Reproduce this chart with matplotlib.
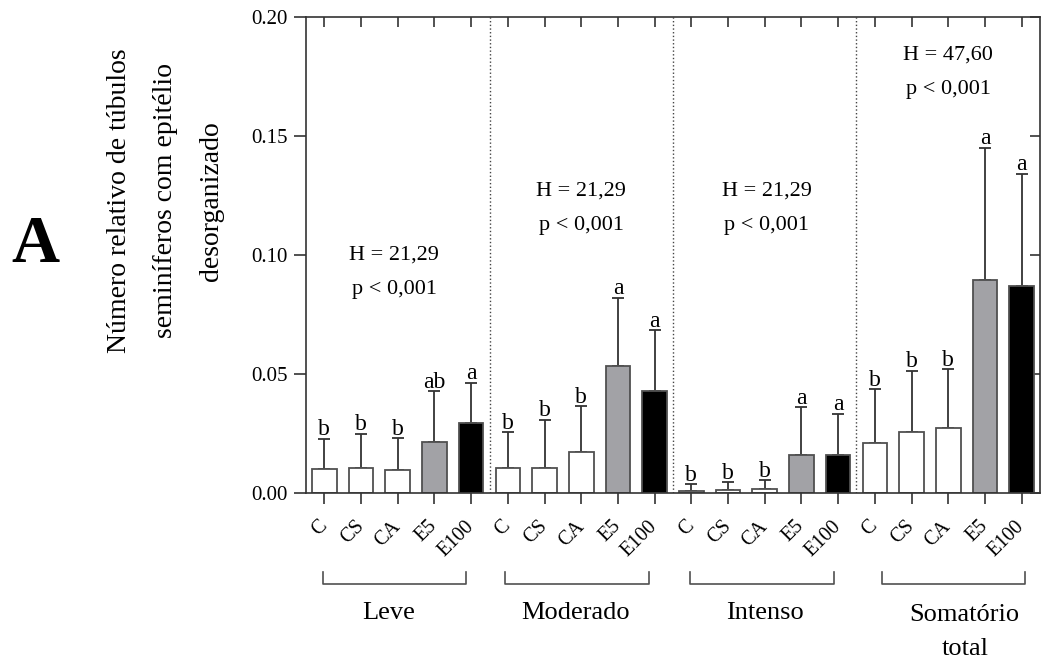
import matplotlib.pyplot as plt
import numpy as np

plt.rcParams['font.family'] = ['Liberation Serif', 'DejaVu Serif']

# data
treatments = ['C', 'CS', 'CA', 'E5', 'E100']
groups = ['Leve', 'Moderado', 'Intenso', 'Somatório\ntotal']
means = [0.0101, 0.0104, 0.0097, 0.0213, 0.0293,
         0.0106, 0.0106, 0.0172, 0.0534, 0.0430,
         0.0007, 0.0011, 0.0016, 0.0161, 0.0160,
         0.0209, 0.0258, 0.0272, 0.0894, 0.0871]
upper = [0.0228, 0.0249, 0.0230, 0.0427, 0.0464,
         0.0256, 0.0308, 0.0364, 0.0821, 0.0683,
         0.0037, 0.0045, 0.0053, 0.0360, 0.0333,
         0.0436, 0.0514, 0.0520, 0.1451, 0.1342]
letters = ['b', 'b', 'b', 'ab', 'a',
           'b', 'b', 'b', 'a', 'a',
           'b', 'b', 'b', 'a', 'a',
           'b', 'b', 'b', 'a', 'a']
stats = [('H = 21,29', 'p < 0,001'), ('H = 21,29', 'p < 0,001'),
         ('H = 21,29', 'p < 0,001'), ('H = 47,60', 'p < 0,001')]

fills = {'C': 'white', 'CS': 'white', 'CA': 'white', 'E5': '#a2a2a6', 'E100': 'black'}

fig = plt.figure(figsize=(10.43, 6.61), dpi=100)
ax = fig.add_axes([0.2934, 0.2542, 0.7037, 0.7201])

x = np.arange(len(means))
labels = treatments * len(groups)
means = np.array(means)
upper = np.array(upper)
err = [np.zeros_like(means), upper - means]

ax.bar(x, means, width=0.67, color=[fills[t] for t in labels],
       edgecolor='#505050', linewidth=1.3, zorder=2)
ax.errorbar(x, means, yerr=err, fmt='none', ecolor='#333333',
            elinewidth=1.3, capsize=4.5, capthick=1.3, zorder=1)

for xi, top, let in zip(x, upper, letters):
    ax.annotate(let, (xi, top), xytext=(0, 2.5), textcoords='offset points',
                ha='center', va='baseline', fontsize=17)

# separators between groups
for b in [4.5, 9.5, 14.5]:
    ax.axvline(b, color='#444444', linestyle=':', linewidth=1.0, zorder=0)

# Kruskal-Wallis annotations
stat_pos = [(1.9, 0.100), (7.0, 0.127), (12.05, 0.127), (17.0, 0.184)]
for (hx, hy), (h, p) in zip(stat_pos, stats):
    ax.text(hx, hy, h, ha='center', va='center', fontsize=16)
    ax.text(hx, hy - 0.0146, p, ha='center', va='center', fontsize=16)

ax.set_xlim(-0.5, 19.5)
ax.set_ylim(0, 0.20)
ax.set_yticks([0, 0.05, 0.10, 0.15, 0.20])
ax.set_yticklabels(['0.00', '0.05', '0.10', '0.15', '0.20'], fontsize=15)
ax.set_xticks(x)
ax.set_xticklabels(labels, rotation=45, ha='right', va='center',
                   rotation_mode='anchor', fontsize=14.5)
ax.tick_params(axis='x', direction='out', length=8, width=1.2, color='#333333', pad=14)
ax.tick_params(axis='y', direction='out', length=9, width=1.2, color='#333333', pad=4)
for s in ax.spines.values():
    s.set_color('#333333')
    s.set_linewidth(1.2)

top = ax.secondary_xaxis('top')
top.set_xticks(x)
top.set_xticklabels([])
top.tick_params(direction='in', length=7, width=1.2, color='#333333')
top.spines['top'].set_visible(False)
right = ax.secondary_yaxis('right')
right.set_yticks([0, 0.05, 0.10, 0.15, 0.20])
right.set_yticklabels([])
right.tick_params(direction='in', length=7, width=1.2, color='#333333')
right.spines['right'].set_visible(False)

# group brackets below the tick labels
br_pos = [(-0.05, 3.87), (4.92, 8.85), (9.96, 13.9), (15.2, 19.1)]
lab_pos = [1.76, 6.84, 12.0, 17.45]
trans = ax.get_xaxis_transform()
fig_h = 661.0


def fig_to_ax(py):
    return (1 - py / fig_h - 0.2542) / 0.7201


for (x0, x1), lx, g in zip(br_pos, lab_pos, groups):
    ax.plot([x0, x0, x1, x1], [fig_to_ax(572), fig_to_ax(584), fig_to_ax(584), fig_to_ax(572)],
            color='#505050', linewidth=1.2, transform=trans, clip_on=False)
    ly = fig_to_ax(632) if '\n' in g else fig_to_ax(613)
    ax.text(lx, ly, g, transform=trans, ha='center', va='center',
            fontsize=19, linespacing=1.65)

fig.text(0.1587, 0.696, 'Número relativo de túbulos\nseminíferos com epitélio\ndesorganizado',
         rotation=90, ha='center', va='center', fontsize=20, linespacing=2.1)
fig.text(0.034, 0.629, 'A', ha='center', va='center', fontsize=48, fontweight='bold')

fig.savefig('out.png', dpi=100)
